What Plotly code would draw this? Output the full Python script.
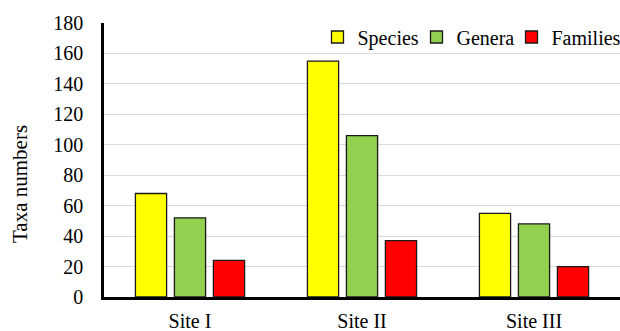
import plotly.graph_objects as go

sites = ["Site I", "Site II", "Site III"]
species = [68, 155, 55]
genera = [52, 106, 48]
families = [24, 37, 20]
y_ticks = [0, 20, 40, 60, 80, 100, 120, 140, 160, 180]

font = "Liberation Serif, Times New Roman, serif"
L, T, W, H = 104, 23, 516, 274

def px_x(p):
    return (p - L) / W

fig = go.Figure()
series = [("Species", species, "#FFFF00", "legend", 317.5),
          ("Genera", genera, "#92D050", "legend2", 416.5),
          ("Families", families, "#FF0000", "legend3", 511.5)]
legends = {}
for name, vals, color, lg, lx in series:
    fig.add_trace(go.Bar(x=sites, y=vals, name=name, legend=lg,
                         marker=dict(color=color, line=dict(color="#1a1a1a", width=1.3))))
    legends[lg] = dict(orientation="h", x=px_x(lx), xanchor="left", y=1.02, yanchor="top",
                       font=dict(size=20), bgcolor="rgba(0,0,0,0)", itemwidth=30)

fig.update_layout(
    width=620, height=331,
    margin=dict(l=L, r=0, t=T, b=34, autoexpand=False),
    paper_bgcolor="white", plot_bgcolor="white",
    barmode="group", bargap=0.32, bargroupgap=0.2,
    font=dict(family=font, size=20, color="black"),
    showlegend=True,
    **legends,
)
fig.add_annotation(text="Taxa numbers", textangle=-90, xref="paper", yref="paper",
                   x=px_x(20), y=(297 - 184) / H, xanchor="center", yanchor="middle",
                   showarrow=False, font=dict(size=21))
fig.update_yaxes(range=[0, 180], tickvals=y_ticks, showgrid=True, gridcolor="#d9d9d9",
                 gridwidth=1, showline=True, linecolor="black", linewidth=2.5,
                 ticks="", zeroline=False, tickfont=dict(size=20), ticklabelstandoff=14)
fig.update_xaxes(showline=True, linecolor="black", linewidth=2.5, ticks="",
                 showgrid=False, tickfont=dict(size=20), ticklabelstandoff=4)

fig.write_html("out.html", config={"displayModeBar": False},
               post_script="document.body.style.margin='0';")
